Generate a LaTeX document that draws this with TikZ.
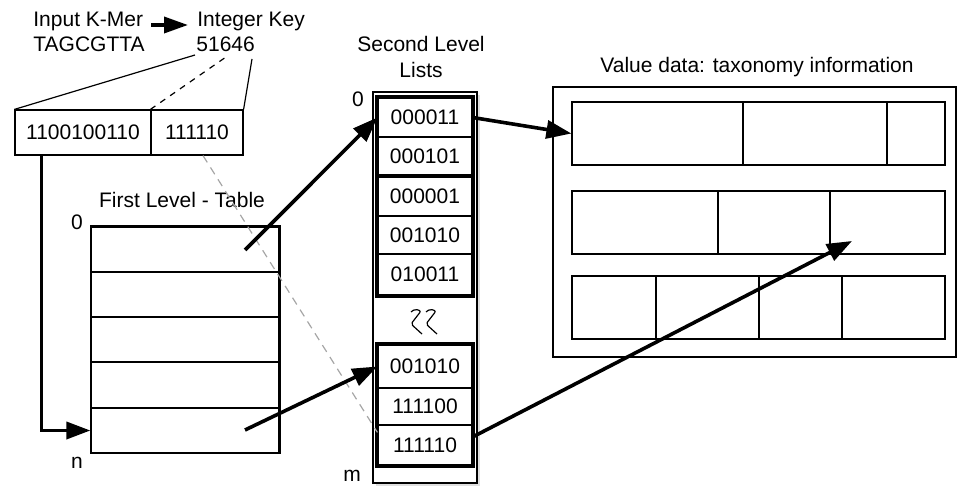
\documentclass[tikz,border=0pt]{standalone}
\usepackage{fontspec}
\setmainfont{Liberation Sans}
\usetikzlibrary{arrows.meta,fit,shadows}
\begin{document}
\begin{tikzpicture}[x=0.5pt,y=-0.5pt,
  font=\fontsize{10.5}{13}\selectfont,
  txt/.style={inner sep=0pt},
  cell/.style={draw, line width=0.6pt, inner sep=0pt},
  tcell/.style={cell, label={[inner sep=0pt]center:#1}},
  grp/.style={draw, line width=2pt},
  arr/.style={line width=1.8pt, -{Triangle[length=12.5pt,width=9pt]}},
  thinline/.style={line width=0.6pt},
  greydash/.style={draw=gray!70, line width=0.6pt, dash pattern=on 4pt off 3pt}]
\useasboundingbox (0,0) rectangle (957,486);

% --- input k-mer and key
\node[txt, anchor=west] (kmer1) at (33,21) {Input K-Mer};
\node[txt, anchor=west] (kmer2) at (33,44) {TAGCGTTA};
\node[txt, anchor=west] (ikey) at (197,21) {Integer Key};
\node[txt, anchor=west] (num) at (196,44) {51646};
\coordinate (arrs) at (151,25);
\coordinate (arre) at (188,25);
\draw[line width=1.8pt, -{Triangle[length=12pt,width=8pt]}] (arrs) -- (arre);

\node[tcell=1100100110, fit={(15,110) (151,155)}] (ka) {};
\node[tcell=111110, fit={(151,110) (243,155)}] (kb) {};
\coordinate (n1) at (195,55);
\coordinate (n2) at (226,57);
\coordinate (n3) at (252,59);
\draw[thinline] (ka.north west) -- (n1);
\draw[thinline, dashed] (kb.north west) -- (n2);
\draw[thinline] (kb.north east) -- (n3);

% --- first level table
\node[txt] (ftitle) at (182,200) {First Level - Table};
\node[txt] (f0) at (77,222) {0};
\node[txt] (fn) at (77,463) {n};
\node[cell, fit={(91,227) (279,272)}] (r1) {};
\node[cell, fit={(91,272) (279,317)}] (r2) {};
\node[cell, fit={(91,317) (279,362)}] (r3) {};
\node[cell, fit={(91,362) (279,408)}] (r4) {};
\node[cell, fit={(91,408) (279,453)}] (r5) {};
\draw[line width=1.2pt] (r1.north west) -- (r1.north east) -- (r5.south east);

% --- second level lists
\node[txt, align=center] (stitle) at (421,57) {Second Level\\Lists};
\node[draw, line width=0.7pt, inner sep=0pt, fill=white, drop shadow={opacity=0.25, shadow xshift=1.5pt, shadow yshift=-1.5pt}, fit={(373,92) (477,483)}] (outer) {};
\node[txt] (s0) at (358,99) {0};
\node[txt] (sm) at (352,476) {m};

\node[tcell=000011, fit={(378,98) (472,137)}] (s1) {};
\node[tcell=000101, fit={(378,137) (472,175)}] (s2) {};
\node[tcell=000001, fit={(378,177) (472,216)}] (s3) {};
\node[tcell=001010, fit={(378,216) (472,254)}] (s4) {};
\node[tcell=010011, fit={(378,254) (472,295)}] (s5) {};
\node[tcell=001010, fit={(378,345) (472,388)}] (s6) {};
\node[tcell=111100, fit={(378,388) (472,425)}] (s7) {};
\node[tcell=111110, fit={(378,425) (472,465)}] (s8) {};
\draw[grp] (s1.north west) rectangle (s2.south east);
\draw[grp] (s3.north west) rectangle (s5.south east);
\draw[grp] (s6.north west) rectangle (s8.south east);

% squiggles
\draw[thinline, rounded corners=1pt] (411,312) -- (415,309) -- (421,311) -- (411,324) -- (422,334);
\draw[thinline, rounded corners=1pt] (426,312) -- (430,309) -- (436,311) -- (426,324) -- (437,334);

% --- value data
\node[txt] (vtitle) at (757,67) {Value data: taxonomy information};
\node[draw, line width=0.7pt, inner sep=0pt, fit={(553,87) (956,357)}] (vbox) {};
\node[cell, fit={(572,102) (743,165)}] (v11) {};
\node[cell, fit={(743,102) (887,165)}] (v12) {};
\node[cell, fit={(887,102) (945,165)}] (v13) {};
\node[cell, fit={(572,191) (718,254)}] (v21) {};
\node[cell, fit={(718,191) (830,254)}] (v22) {};
\node[cell, fit={(830,191) (945,254)}] (v23) {};
\node[cell, fit={(572,276) (656,339)}] (v31) {};
\node[cell, fit={(656,276) (759,339)}] (v32) {};
\node[cell, fit={(759,276) (842,339)}] (v33) {};
\node[cell, fit={(842,276) (945,339)}] (v34) {};

% --- connectors
\draw[greydash] ([xshift=3pt]kb.south) -- ([yshift=-4pt]s8.north west);
\draw[line width=1.8pt, -{Triangle[length=12pt,width=8.5pt]}] ([xshift=13.5pt]ka.south west) |- (r5.west);
\coordinate (p1) at (245,250);
\coordinate (p5) at (245,430);
\coordinate (q) at (852,241);
\draw[arr] (p1) -- (s1.west);
\draw[arr] (p5) -- (s6.west);
\draw[arr] (s1.east) -- (v11.west);
\draw[arr] ([yshift=4pt]s8.east) -- (q);
\end{tikzpicture}
\end{document}
